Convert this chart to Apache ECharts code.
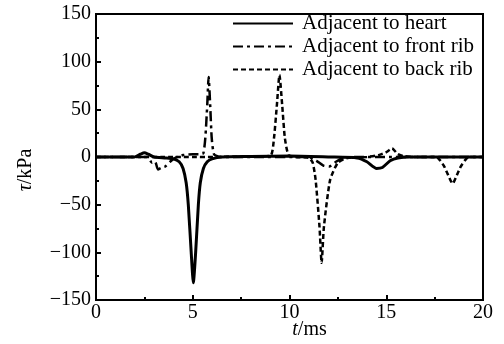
<!DOCTYPE html>
<html>
<head>
<meta charset="utf-8">
<script src="https://cdn.jsdelivr.net/npm/echarts@6/dist/echarts.min.js"></script>
<style>
  html, body { margin: 0; padding: 0; background: #fff; }
  #main { width: 504px; height: 344px; }
</style>
</head>
<body>
<div id="main"></div>
<script>
// [t (ms), tau (kPa)]
const heart = [
  [0, 0], [2.0, 0], [2.3, 3], [2.5, 4.5], [2.7, 3], [3.0, 0], [3.6, -1], [4.0, -2],
  [4.3, -5], [4.5, -12], [4.66, -27], [4.77, -50], [4.92, -100], [5.03, -132],
  [5.15, -100], [5.29, -50], [5.39, -27], [5.55, -12], [5.75, -5], [6.0, -2],
  [6.5, 0], [8, 0.5], [10, 1], [12, 0], [13.5, -1], [14.0, -5], [14.5, -12],
  [14.8, -11], [15.2, -4], [15.6, -1], [16.2, 0], [20, 0]
];
const frontRib = [
  [0, 0], [2.5, 0], [2.64, 0], [2.9, -6], [3.06, -5], [3.2, -13], [3.4, -11],
  [3.58, -10], [3.83, -5], [4.1, -1], [4.5, 2], [5.0, 3], [5.4, 3], [5.55, 4],
  [5.65, 20], [5.75, 55], [5.82, 84], [5.9, 55], [5.98, 20], [6.1, 3], [6.4, 0],
  [8, 0], [11.0, 0], [11.4, -4], [11.75, -9], [12.05, -10], [12.4, -5],
  [12.8, -1], [13.5, 0], [20, 0]
];
const backRib = [
  [0, 0], [4, 0], [8.5, 0.5], [9.05, 2], [9.2, 20], [9.35, 55], [9.48, 86],
  [9.62, 55], [9.76, 20], [9.95, 2], [10.3, 0], [11.0, -1], [11.2, -6],
  [11.35, -24], [11.55, -73], [11.66, -111], [11.78, -73], [12.1, -24],
  [12.5, -6], [13, -1], [14, 0], [14.6, 2], [15.0, 5], [15.3, 9], [15.6, 3],
  [15.9, 1], [16.5, 0], [17.6, 0], [17.8, -4], [18.0, -10], [18.2, -19],
  [18.43, -28], [18.65, -19], [18.85, -10], [19.05, -4], [19.25, 0], [20, 0]
];
const names = ['Adjacent to heart', 'Adjacent to front rib', 'Adjacent to back rib'];

const font = 'Liberation Serif';
const chart = echarts.init(document.getElementById('main'));

function minus(v) {
  return String(v).replace('-', '\u2212');
}

function lineSeries(name, data, type, width) {
  return {
    name: name,
    type: 'line',
    data: data,
    symbol: 'none',
    smooth: 0.2,
    lineStyle: { color: '#000', width: width, type: type },
    itemStyle: { color: '#000' }
  };
}

const option = {
  animation: false,
  backgroundColor: '#fff',
  grid: {
    left: 96, right: 21, top: 14, bottom: 44,
    outerBoundsMode: 'none',
    show: true, borderColor: '#000', borderWidth: 2
  },
  legend: {
    orient: 'vertical',
    left: 227, top: 8,
    itemWidth: 60, itemHeight: 14, itemGap: 2,
    itemStyle: { opacity: 0 },
    textStyle: { fontFamily: font, fontSize: 21, lineHeight: 20, color: '#000', padding: [0, 0, 0, 4] },
    data: names
  },
  xAxis: {
    type: 'value',
    min: 0, max: 20, interval: 5,
    name: '{i|t}/ms',
    nameLocation: 'middle',
    nameGap: 20,
    nameMoveOverlap: false,
    nameTextStyle: {
      fontFamily: font, fontSize: 20, color: '#000', padding: [0, 0, 0, 40],
      rich: { i: { fontFamily: font, fontSize: 20, fontStyle: 'italic', color: '#000' } }
    },
    axisLine: { onZero: false, lineStyle: { color: '#000', width: 2 } },
    axisTick: { inside: true, length: 5, lineStyle: { color: '#000', width: 2 } },
    minorTick: { show: true, splitNumber: 2, length: 3, lineStyle: { color: '#000', width: 2 } },
    splitLine: { show: false },
    axisLabel: { fontFamily: font, fontSize: 20, color: '#000', margin: 3 }
  },
  yAxis: {
    type: 'value',
    min: -150, max: 150, interval: 50,
    name: '{i|τ}/kPa',
    nameLocation: 'middle',
    nameGap: 60,
    nameRotate: 90,
    nameTextStyle: {
      fontFamily: font, fontSize: 20, color: '#000', padding: [0, 26, 0, 0],
      rich: { i: { fontFamily: font, fontSize: 20, fontStyle: 'italic', color: '#000' } }
    },
    axisLine: { lineStyle: { color: '#000', width: 2 } },
    axisTick: { inside: true, length: 5, lineStyle: { color: '#000', width: 2 } },
    minorTick: { show: true, splitNumber: 2, length: 3, lineStyle: { color: '#000', width: 2 } },
    splitLine: { show: false },
    axisLabel: { fontFamily: font, fontSize: 20, color: '#000', margin: 5, formatter: minus }
  },
  series: [
    lineSeries(names[0], heart, 'solid', 3),
    lineSeries(names[1], frontRib, [10, 4, 3, 4], 2.5),
    lineSeries(names[2], backRib, [5, 3], 2.5)
  ]
};
chart.setOption(option);
</script>
</body>
</html>
